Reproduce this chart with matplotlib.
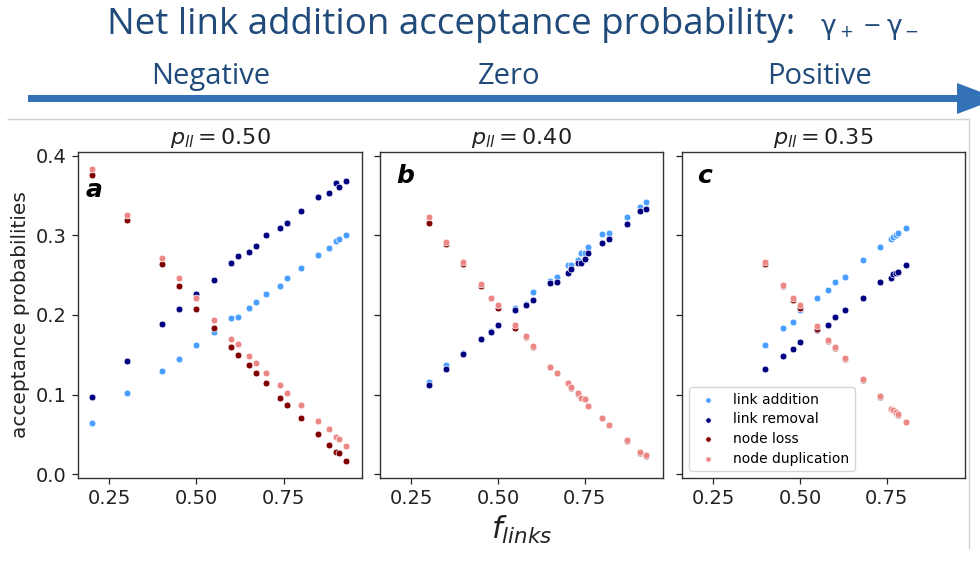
import matplotlib
matplotlib.use("Agg")
import matplotlib.pyplot as plt
from matplotlib import font_manager
from matplotlib.patches import Polygon

# ---------------------------------------------------------------- data
f_links_a = [0.20, 0.30, 0.40, 0.45, 0.50, 0.55, 0.60, 0.62, 0.65, 0.67,
             0.70, 0.74, 0.76, 0.80, 0.85, 0.88, 0.90, 0.91, 0.93]
link_add_a = [0.064, 0.102, 0.130, 0.145, 0.162, 0.179, 0.196, 0.197, 0.209, 0.216,
              0.227, 0.237, 0.246, 0.259, 0.276, 0.284, 0.293, 0.296, 0.301]
link_rem_a = [0.097, 0.142, 0.189, 0.207, 0.226, 0.244, 0.266, 0.274, 0.279, 0.287,
              0.301, 0.309, 0.316, 0.331, 0.348, 0.353, 0.366, 0.361, 0.368]
node_loss_a = [0.376, 0.319, 0.264, 0.236, 0.207, 0.184, 0.160, 0.150, 0.137, 0.127,
               0.114, 0.095, 0.087, 0.070, 0.050, 0.037, 0.028, 0.027, 0.017]
node_dup_a = [0.383, 0.326, 0.272, 0.246, 0.221, 0.194, 0.170, 0.164, 0.149, 0.140,
              0.127, 0.112, 0.102, 0.087, 0.067, 0.057, 0.047, 0.044, 0.035]

f_links_b = [0.30, 0.35, 0.40, 0.45, 0.48, 0.50, 0.55, 0.58, 0.60, 0.65, 0.67,
             0.70, 0.71, 0.73, 0.74, 0.75, 0.76, 0.80, 0.82, 0.87, 0.91, 0.925]
link_add_b = [0.116, 0.137, 0.152, 0.170, 0.180, 0.188, 0.209, 0.214, 0.229, 0.243, 0.248,
              0.263, 0.263, 0.269, 0.278, 0.278, 0.286, 0.302, 0.303, 0.323, 0.336, 0.342]
link_rem_b = [0.112, 0.132, 0.151, 0.170, 0.178, 0.188, 0.206, 0.213, 0.219, 0.240, 0.241,
              0.253, 0.258, 0.265, 0.266, 0.271, 0.278, 0.290, 0.296, 0.315, 0.331, 0.333]
node_loss_b = [0.316, 0.289, 0.264, 0.236, 0.221, 0.209, 0.184, 0.172, 0.160, 0.134, 0.127,
               0.114, 0.108, 0.101, 0.096, 0.094, 0.086, 0.071, 0.062, 0.042, 0.027, 0.023]
node_dup_b = [0.323, 0.292, 0.267, 0.239, 0.222, 0.212, 0.187, 0.173, 0.161, 0.135, 0.127,
              0.115, 0.109, 0.102, 0.096, 0.094, 0.086, 0.071, 0.062, 0.043, 0.028, 0.024]

f_links_c = [0.40, 0.45, 0.48, 0.50, 0.55, 0.58, 0.60, 0.63, 0.68, 0.73,
             0.762, 0.768, 0.776, 0.783, 0.805]
link_add_c = [0.162, 0.184, 0.191, 0.206, 0.221, 0.231, 0.241, 0.248, 0.269, 0.285,
              0.296, 0.298, 0.301, 0.303, 0.310]
link_rem_c = [0.132, 0.149, 0.157, 0.166, 0.181, 0.187, 0.197, 0.206, 0.222, 0.241,
              0.246, 0.251, 0.253, 0.254, 0.263]
node_loss_c = [0.264, 0.236, 0.219, 0.209, 0.183, 0.167, 0.159, 0.145, 0.118, 0.097,
               0.082, 0.080, 0.077, 0.074, 0.065]
node_dup_c = [0.267, 0.238, 0.222, 0.212, 0.186, 0.169, 0.160, 0.146, 0.120, 0.098,
              0.082, 0.081, 0.078, 0.075, 0.066]

p_ll_values = ["0.50", "0.40", "0.35"]
panel_letters = ["a", "b", "c"]
series_names = ["link addition", "link removal", "node loss", "node duplication"]
x_ticks = [0.25, 0.50, 0.75]
y_ticks = [0.0, 0.1, 0.2, 0.3, 0.4]
stage_labels = ["Negative", "Zero", "Positive"]

panels = [
    (f_links_a, [link_add_a, link_rem_a, node_loss_a, node_dup_a]),
    (f_links_b, [link_add_b, link_rem_b, node_loss_b, node_dup_b]),
    (f_links_c, [link_add_c, link_rem_c, node_loss_c, node_dup_c]),
]

# ---------------------------------------------------------------- style
series_colors = ["#4a9eff", "#00007f", "#7f0000", "#ec8785"]
header_text_color = "#1f4a7a"
arrow_color = "#3371b6"


def pick_font(*names):
    for name in names:
        try:
            font_manager.findfont(name, fallback_to_default=False)
            return name
        except ValueError:
            continue
    return "DejaVu Sans"


header_font = pick_font("Open Sans", "Lato", "DejaVu Sans")

W, H = 980, 583
fig = plt.figure(figsize=(W / 100, H / 100), dpi=100)

# background layer in pixel units for the header and the frame
bg = fig.add_axes([0, 0, 1, 1], zorder=-1)
bg.set_xlim(0, W)
bg.set_ylim(H, 0)
bg.axis("off")

bg.text(107, 34, "Net link addition acceptance probability:", fontsize=26.5,
        family=header_font, color=header_text_color, ha="left", va="baseline")
gamma_kw = dict(family="DejaVu Sans", color=header_text_color, va="baseline")
bg.text(821, 34, "γ", fontsize=19, ha="left", **gamma_kw)
bg.text(839, 37, "+", fontsize=12, ha="left", **gamma_kw)
bg.text(863, 32, "−", fontsize=16, ha="left", **gamma_kw)
bg.text(887, 34, "γ", fontsize=19, ha="left", **gamma_kw)
bg.text(904, 37, "−", fontsize=12, ha="left", **gamma_kw)

for label, cx in zip(stage_labels, [211, 509, 819]):
    bg.text(cx, 84, label, fontsize=21, family=header_font,
            color=header_text_color, ha="center", va="baseline")

arrow = Polygon([(28, 95), (957, 95), (957, 83), (998, 98.5),
                 (957, 114), (957, 102), (28, 102)],
                closed=True, facecolor=arrow_color, edgecolor="none")
bg.add_patch(arrow)

frame_kw = dict(color="#d0d0d0", lw=1.0, solid_capstyle="butt")
bg.plot([7, 968], [118.5, 118.5], **frame_kw)
bg.plot([968.5, 968.5], [118, 549], **frame_kw)

# ---------------------------------------------------------------- panels
axes_px = [(78, 362), (380, 663), (682, 965)]
top_px, bottom_px = 152, 478

axes = []
for i, ((x0, x1), (fx, series)) in enumerate(zip(axes_px, panels)):
    ax = fig.add_axes([x0 / W, 1 - bottom_px / H, (x1 - x0) / W,
                       (bottom_px - top_px) / H])
    axes.append(ax)
    for vals, color, name in zip(series, series_colors, series_names):
        ax.scatter(fx, vals, s=24, color=color, edgecolors="white",
                   linewidths=0.5, label=name, zorder=3)
    ax.set_xlim(0.16, 0.975)
    ax.set_ylim(-0.005, 0.405)
    ax.set_xticks(x_ticks)
    ax.set_xticklabels([f"{t:.2f}" for t in x_ticks])
    ax.set_yticks(y_ticks)
    if i == 0:
        ax.set_yticklabels([f"{t:.1f}" for t in y_ticks])
        ax.set_ylabel("acceptance probabilities", fontsize=14.5, color="#222222")
    else:
        ax.set_yticklabels([])
    ax.tick_params(labelsize=14, colors="#222222", length=4.5, width=0.9)
    for sp in ax.spines.values():
        sp.set_color("#333333")
        sp.set_linewidth(1.0)
    ax.set_title(r"$p_{ll} = " + p_ll_values[i] + "$", fontsize=16, pad=6,
                 color="#222222")

letter_pos = [(0.028, 0.862), (0.057, 0.905), (0.053, 0.905)]
for ax, letter, (lx, ly) in zip(axes, panel_letters, letter_pos):
    ax.text(lx, ly, letter, transform=ax.transAxes, fontsize=18,
            fontweight="bold", fontstyle="italic", ha="left", va="baseline")

axes[1].set_xlabel(r"$f_{links}$", fontsize=22, labelpad=4, color="#222222")

axes[2].legend(loc="lower left", fontsize=10, labelspacing=0.4,
               markerscale=0.8, handletextpad=0.8, borderpad=0.4)

fig.savefig("out.png", dpi=100)
